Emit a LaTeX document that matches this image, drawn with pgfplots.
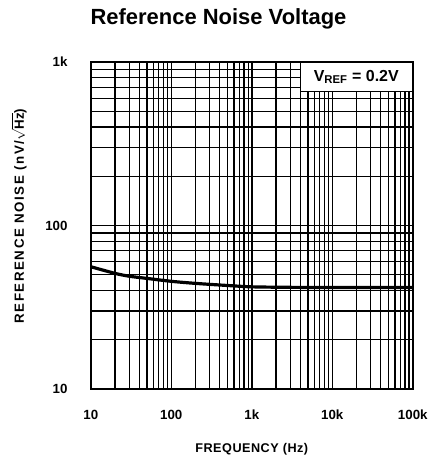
\documentclass[border=0pt]{standalone}
\usepackage{pgfplots}
\pgfplotsset{compat=1.18}
\usepackage{fontspec}
\setmainfont{Liberation Sans}
\newfontfamily\xlblfont[LetterSpace=4]{Liberation Sans}
\newfontfamily\ylblfont[LetterSpace=12]{Liberation Sans}
\begin{document}
\begin{tikzpicture}
\begin{axis}[
  name=ax,
  scale only axis,
  width=242pt, height=246pt,
  xmode=log, ymode=log,
  xmin=10, xmax=100000, ymin=10, ymax=1000,
  xtick={10,100,1000,10000,100000},
  xticklabels={10,100,1k,10k,100k},
  ytick={10,100,1000},
  yticklabels={10,100,1k},
  grid=both,
  major grid style={black, line width=1.1pt},
  minor grid style={black, line width=0.9pt},
  axis line style={black, line width=1.6pt},
  tick style={draw=none},
  ticklabel style={font=\bfseries\fontsize{10}{12}\selectfont},
  xticklabel style={anchor=center, yshift=-19pt},
  yticklabel style={anchor=east, xshift=-14pt},
  xlabel={\xlblfont\bfseries\fontsize{9.5}{11}\selectfont FREQUENCY (Hz)},
  ylabel={\ylblfont\bfseries\fontsize{10}{12}\selectfont REFERENCE NOISE (nV/$\sqrt{\mathbf{Hz}}$)},
  xlabel style={at={([yshift=-45pt]axis description cs:0.5,0)}, anchor=center},
  ylabel style={at={([xshift=-54pt,yshift=7pt]axis description cs:0,0.5)}, anchor=center},
  every axis title shift=0pt,
  title={\bfseries\fontsize{16.5}{19}\selectfont Reference Noise Voltage},
  title style={at={([xshift=-25pt,yshift=32pt]axis description cs:0.5,1)}, anchor=center},
  /pgf/number format/assume math mode=true,
  clip=true,
]
\addplot[black, line width=2.4pt, smooth] coordinates {
 (10,56) (20,51) (30,49) (50,47.5) (100,45.6) (200,44.3) (500,43) (1000,42.2) (3000,41.9) (10000,41.8) (100000,41.8)
};
\node[draw=black, fill=white, line width=0.9pt, anchor=north east, minimum width=84pt, minimum height=22pt, inner sep=3pt, font=\bfseries\fontsize{12}{14}\selectfont] at (rel axis cs:1,1) {V\textsubscript{\fontsize{8.5}{10}\selectfont REF} = 0.2V};
\end{axis}
\pgfresetboundingbox
\path ([shift={(-68.25pt,-56.25pt)}]ax.south west) rectangle ([shift={(12pt,46.5pt)}]ax.north east);
\end{tikzpicture}
\end{document}
